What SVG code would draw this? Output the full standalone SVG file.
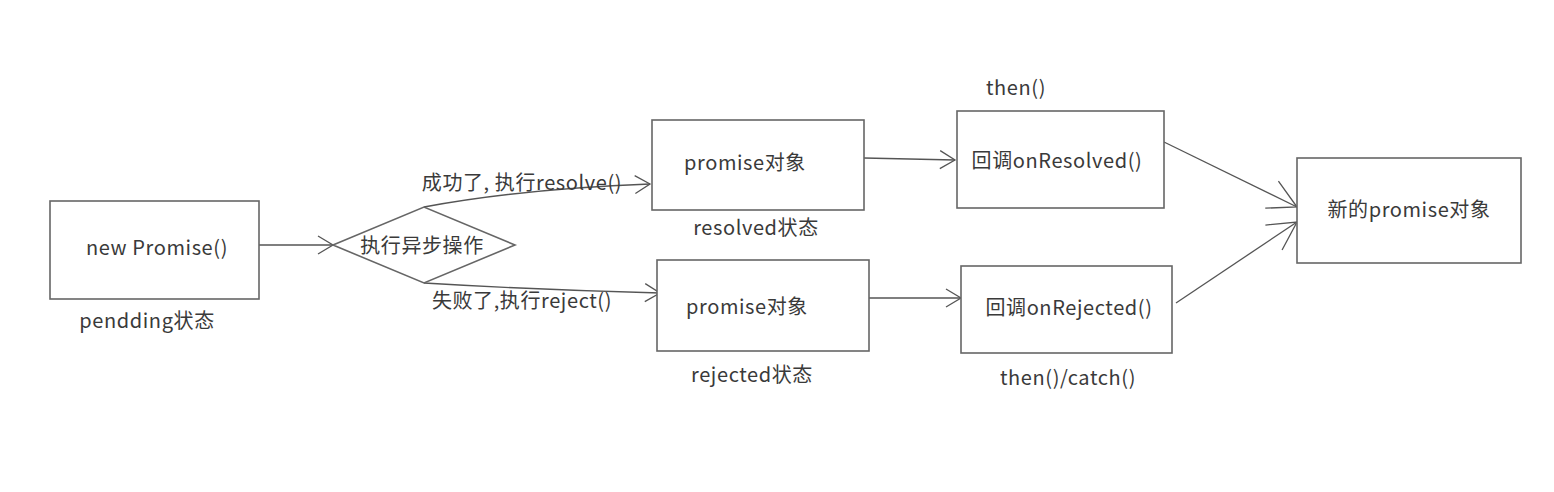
<svg xmlns="http://www.w3.org/2000/svg" width="1554" height="492" viewBox="0 0 1554 492">
<defs>
<style>
.box{fill:#fff;stroke:#666;stroke-width:1.6}
.t{font-family:"Noto Sans CJK SC","Microsoft YaHei",sans-serif;font-size:20px;letter-spacing:0.6px;fill:#3a3a3a;text-anchor:middle;dominant-baseline:central}
.ln{fill:none;stroke:#555;stroke-width:1.3}
</style>
<marker id="arr" markerUnits="userSpaceOnUse" viewBox="0 0 20 20" markerWidth="20" markerHeight="20" refX="17" refY="10" orient="auto">
<path d="M2,1 L17,10 L2,19" fill="none" stroke="#555" stroke-width="1.3"/>
</marker>
<marker id="arrBig" markerUnits="userSpaceOnUse" viewBox="0 0 40 40" markerWidth="40" markerHeight="40" refX="36" refY="20" orient="auto">
<path d="M8,5 L36,20 L8,35" fill="none" stroke="#555" stroke-width="1.3"/>
</marker>
</defs>
<rect width="1554" height="492" fill="#fff"/>
<g id="connectors">
<line class="ln" x1="259" y1="245" x2="333" y2="245" marker-end="url(#arr)"/>
<path class="ln" d="M424,207 Q520,189 650,184" marker-end="url(#arr)"/>
<path class="ln" d="M424,283 Q540,290 660,293" marker-end="url(#arr)"/>
<line class="ln" x1="864" y1="158" x2="955" y2="160" marker-end="url(#arr)"/>
<line class="ln" x1="869" y1="298" x2="961" y2="298" marker-end="url(#arr)"/>
<line class="ln" x1="1164" y1="142" x2="1297" y2="207" marker-end="url(#arrBig)"/>
<line class="ln" x1="1176" y1="303" x2="1297" y2="222" marker-end="url(#arrBig)"/>
</g>
<g id="n-new">
<rect class="box" x="50" y="201" width="209" height="98"/>
<text class="t" x="157" y="246">new Promise()</text>
<text class="t" x="147" y="319">pendding状态</text>
</g>
<g id="n-async">
<polygon class="box" points="333,245 424,207 515,245 424,283"/>
<text class="t" x="422" y="244">执行异步操作</text>
</g>
<g id="lbl-success">
<text class="t" x="522" y="181">成功了, 执行resolve()</text>
</g>
<g id="lbl-fail">
<text class="t" x="522" y="299">失败了,执行reject()</text>
</g>
<g id="n-resolved">
<rect class="box" x="652" y="120" width="212" height="90"/>
<text class="t" x="745" y="161">promise对象</text>
<text class="t" x="756" y="226">resolved状态</text>
</g>
<g id="n-rejected">
<rect class="box" x="657" y="260" width="212" height="91"/>
<text class="t" x="747" y="305">promise对象</text>
<text class="t" x="752" y="373">rejected状态</text>
</g>
<g id="n-onresolved">
<rect class="box" x="957" y="111" width="207" height="97"/>
<text class="t" x="1057" y="159">回调onResolved()</text>
<text class="t" x="1016" y="86">then()</text>
</g>
<g id="n-onrejected">
<rect class="box" x="961" y="266" width="211" height="87"/>
<text class="t" x="1069" y="306">回调onRejected()</text>
<text class="t" x="1068" y="376">then()/catch()</text>
</g>
<g id="n-new-promise">
<rect class="box" x="1297" y="158" width="224" height="105"/>
<text class="t" x="1409" y="208">新的promise对象</text>
</g>
</svg>
